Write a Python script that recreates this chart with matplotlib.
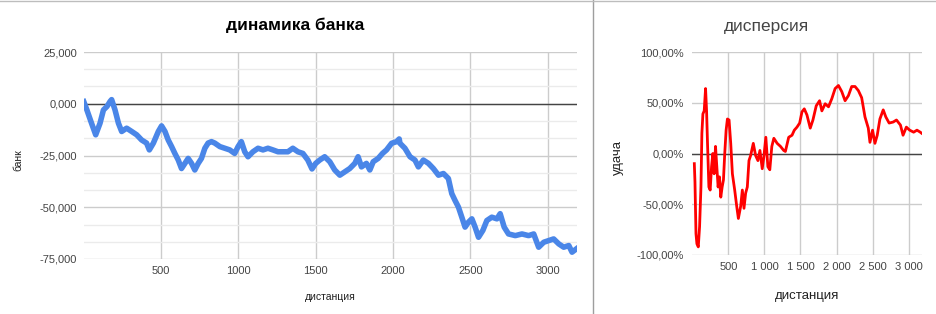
import matplotlib
matplotlib.use("Agg")
import matplotlib.pyplot as plt
from matplotlib.lines import Line2D
from matplotlib.ticker import MultipleLocator

plt.rcParams['font.family'] = ['Liberation Sans', 'DejaVu Sans']

# ---- data: динамика банка ----
bank_x = [0, 20, 50, 77, 105, 127, 150, 170, 180, 202, 224, 245, 277, 310, 342,
          374, 406, 424, 450, 482, 503, 525, 546, 568, 589, 611, 632, 654, 675,
          697, 718, 740, 761, 783, 804, 826, 847, 880, 912, 944, 976, 998, 1019,
          1041, 1062, 1094, 1127, 1159, 1191, 1223, 1256, 1288, 1320, 1352, 1385,
          1417, 1449, 1476, 1500, 1526, 1558, 1591, 1623, 1656, 1688, 1720, 1753,
          1774, 1796, 1828, 1850, 1872, 1904, 1932, 1958, 1991, 2023, 2040, 2045,
          2077, 2110, 2142, 2164, 2196, 2229, 2261, 2294, 2326, 2358, 2380, 2401,
          2423, 2445, 2466, 2488, 2510, 2531, 2553, 2581, 2607, 2639, 2672, 2693,
          2719, 2747, 2791, 2834, 2877, 2910, 2942, 2975, 3007, 3039, 3072, 3104,
          3137, 3158, 3186]
bank_y = [1000, -3000, -9400, -15000, -9400, -3000, -1300, 1100, 2000, -3000,
          -9400, -13400, -11800, -13400, -15000, -17500, -19000, -22300, -19000,
          -13400, -10700, -13400, -17500, -20700, -24000, -27200, -31300, -28800,
          -26400, -28800, -32000, -28800, -26400, -21500, -19000, -18300, -19000,
          -20700, -21500, -22300, -24000, -20700, -18300, -23200, -25600, -23200,
          -21500, -22300, -21500, -22300, -23200, -23200, -23200, -21500, -23200,
          -24000, -27200, -31500, -28800, -27200, -25600, -28000, -32000, -34500,
          -32900, -31300, -28800, -25600, -30500, -28800, -32000, -28000, -26400,
          -24000, -22300, -19100, -18300, -17000, -19100, -21500, -25600, -27200,
          -30500, -27200, -28800, -31300, -34500, -33700, -36100, -43400, -46700,
          -49900, -54800, -59600, -57200, -55600, -59600, -64500, -61200, -56400,
          -54800, -55600, -53100, -59600, -62900, -63700, -62900, -63700, -62900,
          -69300, -66900, -66100, -65300, -67700, -69300, -68500, -71700, -70100]

# ---- data: дисперсия (%) ----
disp_x = [28, 37, 51, 64, 83, 101, 120, 133, 147, 165, 184, 198, 211, 230, 248,
          267, 285, 303, 322, 340, 358, 377, 395, 414, 432, 450, 469, 487, 510,
          533, 556, 588, 616, 639, 671, 694, 717, 740, 763, 786, 809, 846, 878,
          910, 938, 970, 993, 1020, 1048, 1075, 1103, 1131, 1177, 1223, 1268,
          1291, 1337, 1383, 1415, 1452, 1489, 1521, 1553, 1590, 1636, 1673, 1719,
          1765, 1797, 1843, 1889, 1935, 1981, 2027, 2073, 2119, 2165, 2211, 2257,
          2303, 2349, 2395, 2441, 2464, 2500, 2533, 2565, 2602, 2648, 2684, 2730,
          2786, 2832, 2887, 2923, 2969, 3015, 3070, 3116, 3162, 3180]
disp_y = [-10, -28, -79, -89, -92, -72, -33, 20, 39, 42, 64, 42, 10, -33, -36,
          -13, 0, -20, 7, -13, -33, -23, -43, -33, -26, 0, 23, 34, 33, 10, -20,
          -36, -52, -64, -52, -36, -54, -39, -33, -7, -2, 10, -2, -7, 3, -15, -3,
          16, -13, -16, 7, 15, 10, 7, 3, 2, 16, 18, 23, 26, 30, 41, 44, 38, 25,
          33, 47, 52, 42, 49, 46, 54, 64, 67, 61, 52, 57, 66, 66, 62, 55, 36, 25,
          11, 23, 10, 18, 34, 43, 36, 30, 31, 33, 28, 18, 26, 23, 21, 23, 21, 20]

bank_yticks = [-75000, -50000, -25000, 0, 25000]
bank_ylabels = ['-75,000', '-50,000', '-25,000', '0,000', '25,000']
bank_xticks = [500, 1000, 1500, 2000, 2500, 3000]
bank_xlabels = ['500', '1000', '1500', '2000', '2500', '3000']

disp_yticks = [-100, -50, 0, 50, 100]
disp_ylabels = ['-100,00%', '-50,00%', '0,00%', '50,00%', '100,00%']
disp_xticks = [500, 1000, 1500, 2000, 2500, 3000]
disp_xlabels = ['500', '1 000', '1 500', '2 000', '2 500', '3 000']

W, H = 936, 314
fig = plt.figure(figsize=(W / 100, H / 100), dpi=100)
fig.patch.set_facecolor('white')

tick_color = '#444444'
grid_color = '#cccccc'
minor_color = '#ebebeb'


def style(ax, xticks, xlabels, yticks, ylabels, ypad):
    for s in ax.spines.values():
        s.set_visible(False)
    ax.set_xticks(xticks)
    ax.set_xticklabels(xlabels)
    ax.set_yticks(yticks)
    ax.set_yticklabels(ylabels)
    ax.tick_params(axis='both', which='both', length=0, labelsize=8,
                   labelcolor=tick_color)
    ax.tick_params(axis='y', pad=ypad)
    ax.tick_params(axis='x', pad=5)
    ax.grid(True, which='major', color=grid_color, linewidth=1)
    ax.set_axisbelow(True)
    ax.axhline(0, color='#444444', linewidth=1, zorder=1.5)


# left panel
ax1 = fig.add_axes([83.8 / W, 1 - 259 / H, (577 - 83.8) / W, (259 - 52) / H])
ax1.plot(bank_x, bank_y, color='#4a86e8', linewidth=4, zorder=3)
ax1.set_xlim(0, 3190)
ax1.set_ylim(-75000, 25000)
style(ax1, bank_xticks, bank_xlabels, bank_yticks, bank_ylabels, 5)
ax1.yaxis.set_minor_locator(MultipleLocator(25000 / 3))
ax1.grid(True, which='minor', axis='y', color=minor_color, linewidth=1)
ax1.set_ylabel('банк', fontsize=7.5, color='#222222')
ax1.yaxis.set_label_coords(-0.122, 0.48)
ax1.set_xlabel('дистанция', fontsize=7.5, color='#222222')
ax1.xaxis.set_label_coords(0.5, -0.16)
fig.text(295 / W, 1 - 25 / H, 'динамика банка', ha='center', va='center',
         fontsize=12.5, fontweight='bold', color='#000000')

# right panel
ax2 = fig.add_axes([692.3 / W, 1 - 255 / H, (922.3 - 692.3) / W, (255 - 52) / H])
ax2.plot(disp_x, disp_y, color='#ff0000', linewidth=2, zorder=3)
ax2.set_xlim(0, 3190)
ax2.set_ylim(-100, 100)
style(ax2, disp_xticks, disp_xlabels, disp_yticks, disp_ylabels, 6)
ax2.set_ylabel('удача', fontsize=9.5, color='#222222')
ax2.yaxis.set_label_coords(-0.295, 0.48)
ax2.set_xlabel('дистанция', fontsize=9.5, color='#222222')
ax2.xaxis.set_label_coords(0.5, -0.172)
fig.text(766 / W, 1 - 27 / H, 'дисперсия', ha='center', va='center',
         fontsize=12.5, color='#444444')

# separators
fig.add_artist(Line2D([593 / W, 593 / W], [0, 1], color='#9e9e9e', linewidth=1))
fig.add_artist(Line2D([0, 1], [1 - 1 / H, 1 - 1 / H], color='#bdbdbd', linewidth=1))

fig.savefig('out.png', dpi=100, facecolor='white')
